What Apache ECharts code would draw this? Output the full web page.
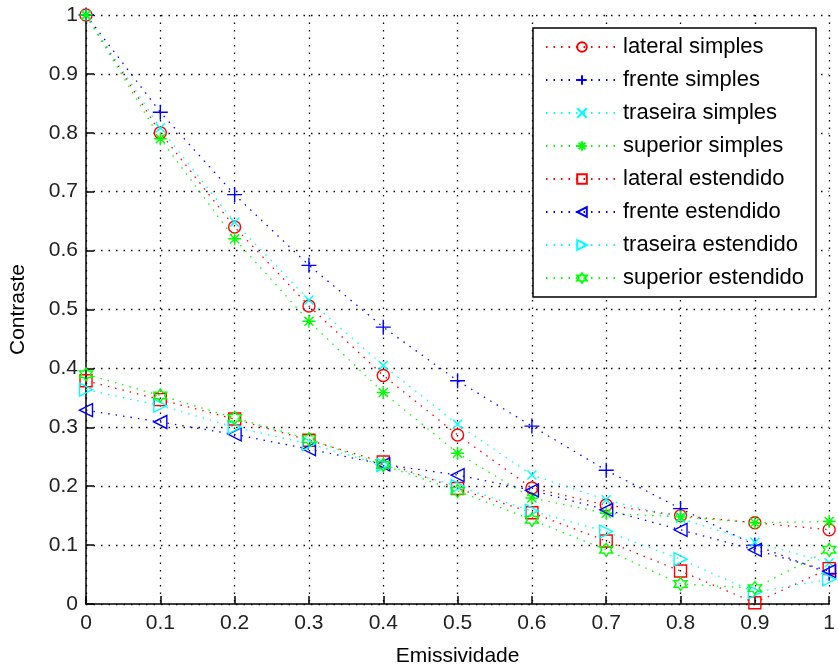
<!DOCTYPE html>
<html>
<head>
<meta charset="utf-8">
<script src="https://cdn.jsdelivr.net/npm/echarts@6/dist/echarts.min.js"></script>
<style>
  html, body { margin: 0; padding: 0; background: #fff; }
  #chart { width: 838px; height: 672px; }
</style>
</head>
<body>
<div id="chart"></div>
<script>
const emissividade = [0, 0.1, 0.2, 0.3, 0.4, 0.5, 0.6, 0.7, 0.8, 0.9, 1]

const lateralSimples = [1, 0.80, 0.64, 0.506, 0.388, 0.287, 0.197, 0.168, 0.150, 0.138, 0.126]
const frenteSimples = [1, 0.835, 0.695, 0.575, 0.470, 0.379, 0.302, 0.227, 0.162, 0.100, 0.052]
const traseiraSimples = [1, 0.808, 0.648, 0.516, 0.405, 0.305, 0.219, 0.177, 0.145, 0.105, 0.070]
const superiorSimples = [1, 0.79, 0.62, 0.48, 0.359, 0.256, 0.18, 0.154, 0.148, 0.138, 0.14]
const lateralEstendido = [0.379, 0.347, 0.314, 0.278, 0.241, 0.196, 0.155, 0.107, 0.056, 0.002, 0.06]
const frenteEstendido = [0.329, 0.309, 0.288, 0.263, 0.237, 0.219, 0.193, 0.16, 0.126, 0.092, 0.056]
const traseiraEstendido = [0.364, 0.337, 0.300, 0.272, 0.236, 0.200, 0.158, 0.123, 0.076, 0.02, 0.042]
const superiorEstendido = [0.39, 0.354, 0.316, 0.28, 0.236, 0.192, 0.143, 0.092, 0.034, 0.027, 0.092]

const yTicks = [0, 0.1, 0.2, 0.3, 0.4, 0.5, 0.6, 0.7, 0.8, 0.9, 1]

// matlab-like marker outlines
const hexagram = (() => {
  const pts = []
  for (let i = 0; i < 12; i++) {
    const r = i % 2 === 0 ? 10 : 10 / Math.sqrt(3)
    const a = (-90 + i * 30) * Math.PI / 180
    pts.push((10 + r * Math.cos(a)).toFixed(2) + ',' + (10 + r * Math.sin(a)).toFixed(2))
  }
  return 'path://M' + pts.join('L') + 'Z'
})()
const markers = {
  circle: 'circle',
  plus: 'path://M5,0L5,10M0,5L10,5',
  cross: 'path://M0,0L10,10M10,0L0,10',
  star: 'path://M5,0L5,10M0,5L10,5M1.5,1.5L8.5,8.5M8.5,1.5L1.5,8.5',
  square: 'rect',
  left: 'path://M0,5L10,0L10,10Z',
  right: 'path://M10,5L0,0L0,10Z',
  hexagram,
}

const RED = '#ff0000'
const BLUE = '#0000ff'
const CYAN = '#00ffff'
const GREEN = '#00ff00'
const DOTS = [1.5, 6]

const mkSeries = (name, values, color, symbol, size) => ({
  name,
  type: 'line',
  data: emissividade.map((x, i) => [x, values[i]]),
  symbol,
  symbolSize: size,
  showAllSymbol: true,
  lineStyle: { color, width: 1.3, type: DOTS },
  itemStyle: { color: 'rgba(0,0,0,0)', borderColor: color, borderWidth: 1.4 },
  emphasis: { disabled: true },
  animation: false,
})

const chart = echarts.init(document.getElementById('chart'))

const font = 'Liberation Sans, Arial, sans-serif'

chart.setOption({
  backgroundColor: '#fff',
  animation: false,
  grid: { left: 83, right: 4, top: 15, bottom: 64 },
  legend: {
    orient: 'vertical',
    left: 533,
    top: 28,
    backgroundColor: '#fff',
    borderColor: '#000',
    borderWidth: 1.5,
    padding: [8, 12, 8, 12],
    itemWidth: 72,
    itemHeight: 12,
    itemGap: 11,
    textStyle: { fontFamily: font, fontSize: 22, lineHeight: 22, color: '#000' },
  },
  xAxis: {
    type: 'value',
    min: 0,
    max: 1,
    interval: 0.1,
    name: 'Emissividade',
    nameLocation: 'middle',
    nameGap: 42,
    nameTextStyle: { fontFamily: font, fontSize: 21, color: '#000' },
    axisLine: { lineStyle: { color: '#000', width: 1.5 } },
    axisTick: { inside: true, length: 8, lineStyle: { color: '#000', width: 1.5 } },
    axisLabel: { fontFamily: font, fontSize: 21, color: '#222', margin: 9 },
    splitLine: { show: true, lineStyle: { color: '#000', width: 1.3, type: DOTS } },
  },
  yAxis: {
    type: 'value',
    min: 0,
    max: 1,
    interval: 0.1,
    name: 'Contraste',
    nameLocation: 'middle',
    nameGap: 57,
    nameTextStyle: { fontFamily: font, fontSize: 21, color: '#000' },
    axisLine: { show: true, lineStyle: { color: '#000', width: 1.5 } },
    axisTick: { show: true, inside: true, length: 8, lineStyle: { color: '#000', width: 1.5 } },
    axisLabel: {
      fontFamily: font, fontSize: 21, color: '#222', margin: 8,
      formatter: v => yTicks.includes(Math.round(v * 10) / 10) ? String(Math.round(v * 10) / 10) : '',
    },
    splitLine: { show: true, lineStyle: { color: '#000', width: 1.3, type: DOTS } },
  },
  series: [
    mkSeries('lateral simples', lateralSimples, RED, markers.circle, 12),
    mkSeries('frente simples', frenteSimples, BLUE, markers.plus, 15),
    mkSeries('traseira simples', traseiraSimples, CYAN, markers.cross, 9),
    mkSeries('superior simples', superiorSimples, GREEN, markers.star, 13),
    mkSeries('lateral estendido', lateralEstendido, RED, markers.square, 12),
    mkSeries('frente estendido', frenteEstendido, BLUE, markers.left, 13),
    mkSeries('traseira estendido', traseiraEstendido, CYAN, markers.right, 13),
    mkSeries('superior estendido', superiorEstendido, GREEN, markers.hexagram, 13),
  ],
})
</script>
</body>
</html>
